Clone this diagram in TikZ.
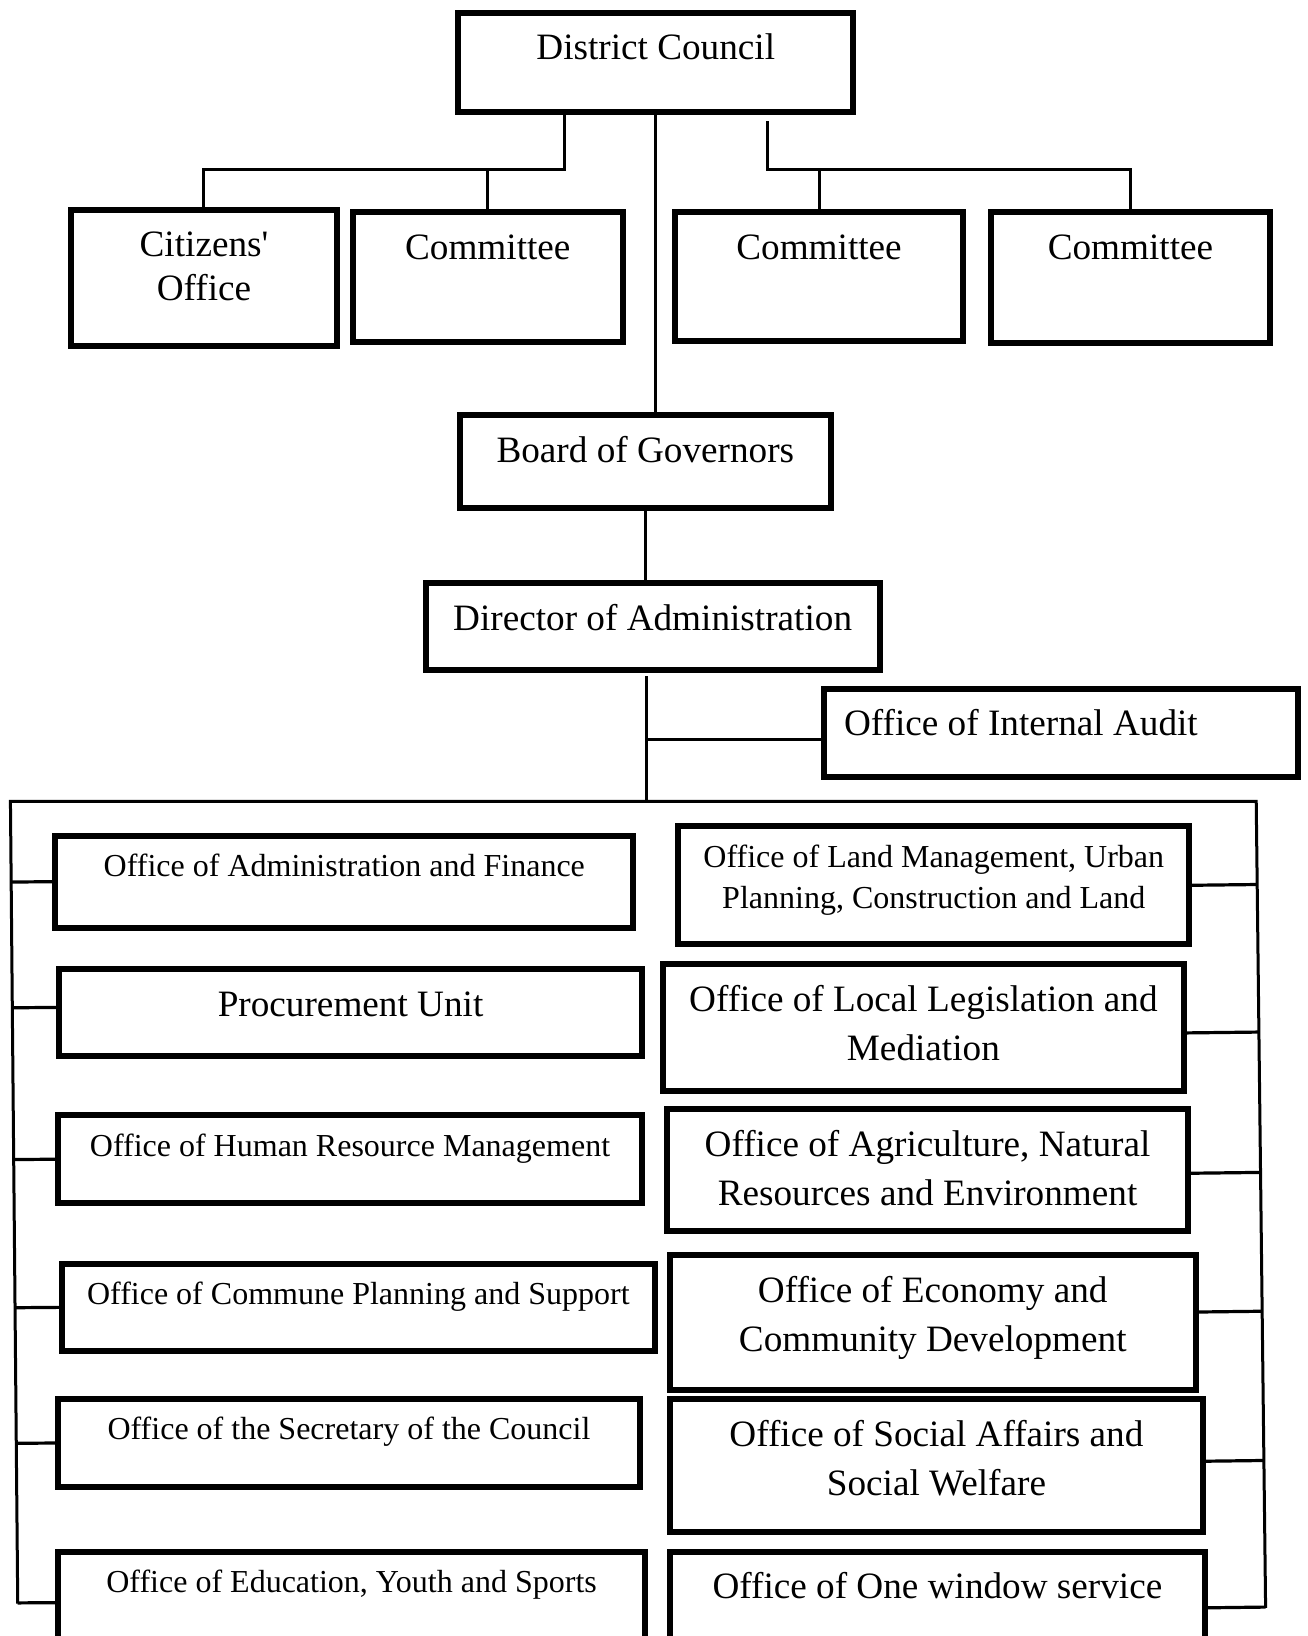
\documentclass[tikz,border=0pt]{standalone}
\usepackage{fontspec}
\setmainfont{Liberation Serif}
\usetikzlibrary{calc}
\newlength\px
\setlength\px{0.52155pt}
\newcommand\bigtext{\fontsize{18.6pt}{24.5pt}\selectfont}
\newcommand\smalltext{\fontsize{16pt}{20.9pt}\selectfont}
\newcommand\orgtext[4][\centering]{\parbox[c][#3\px][t]{#2\px}{#1\rule{0pt}{1.27em}#4}}

\begin{document}
\begin{tikzpicture}[x=0.52155pt, y=-0.52155pt,
        orgbox/.style={draw, line width=3pt, inner sep=0pt, outer sep=0pt, anchor=north west},
        link/.style={line width=1.5pt},
        stub/.style={line width=1.6pt}]
        \useasboundingbox (0,0) rectangle (1253,1568);
        % top level
        \node[orgbox, font=\bigtext] (council) at (439,12) {\orgtext{379}{95}{District Council}};
        \node[orgbox, font=\bigtext] (citizens) at (68,201) {\orgtext{255}{131}{Citizens\textquotesingle\\[-2.5pt]Office}};
        \node[orgbox, font=\bigtext] (comA) at (338,203) {\orgtext{259}{125}{Committee}};
        \node[orgbox, font=\bigtext] (comB) at (647,203) {\orgtext{276}{124}{Committee}};
        \node[orgbox, font=\bigtext] (comC) at (950,203) {\orgtext{267}{126}{Committee}};
        \node[orgbox, font=\bigtext] (board) at (441,398) {\orgtext{355}{89}{Board of Governors}};
        \node[orgbox, font=\bigtext] (director) at (408,559) {\orgtext{435}{83}{Director of Administration}};
        \node[orgbox, font=\bigtext] (audit) at (790,660) {\orgtext[\raggedright\hspace*{19\px}]{454}{85}{Office of Internal Audit}};
        % left column
        \node[orgbox, font=\smalltext] (admin) at (53,801) {\orgtext{554}{88}{Office of Administration and Finance}};
        \node[orgbox, font=\bigtext] (procure) at (57,929) {\orgtext{558}{83}{Procurement Unit}};
        \node[orgbox, font=\smalltext] (hr) at (56,1069) {\orgtext{559}{84}{Office of Human Resource Management}};
        \node[orgbox, font=\smalltext] (commune) at (59,1211) {\orgtext{569}{84}{Office of Commune Planning and Support}};
        \node[orgbox, font=\smalltext] (secretary) at (56,1341) {\orgtext{557}{84}{Office of the Secretary of the Council}};
        \node[orgbox, font=\smalltext] (education) at (56,1487) {\orgtext{562}{98}{Office of Education, Youth and Sports}};
        % right column
        \node[orgbox, font=\smalltext] (land) at (650,792) {\orgtext{490}{113}{Office of Land Management, Urban\\Planning, Construction and Land}};
        \node[orgbox, font=\bigtext] (legis) at (635,924) {\orgtext{500}{122}{Office of Local Legislation and\\Mediation}};
        \node[orgbox, font=\bigtext] (agri) at (639,1063) {\orgtext{500}{117}{Office of Agriculture, Natural\\Resources and Environment}};
        \node[orgbox, font=\bigtext] (economy) at (642,1203) {\orgtext{504}{129}{Office of Economy and\\Community Development}};
        \node[orgbox, font=\bigtext] (social) at (642,1341) {\orgtext{511}{127}{Office of Social Affairs and\\Social Welfare}};
        \node[orgbox, font=\bigtext] (onewindow) at (642,1487) {\orgtext{513}{108}{Office of One window service}};

        % branch points
        \coordinate (lsplit) at (541,162);
        \coordinate (rsplit) at (736,162);
        \coordinate (bus) at (620,768);
        \coordinate (auditjoin) at (620,709);
        \coordinate (busL) at (10,768);
        \coordinate (busR) at (1204,768);
        \coordinate (endL) at (17,1537);
        \coordinate (endR) at (1213,1541);

        \draw[link] (council.south -| lsplit) -- (lsplit) -| (citizens.north);
        \draw[link] (lsplit -| comA.north) -- (comA.north);
        \draw[link] ($(council.south -| rsplit)+(0,9)$) -- (rsplit) -| (comC.north);
        \draw[link] (rsplit -| comB.north) -- (comB.north);
        \draw[link] (council.south) -- (council.south |- board.north);
        \draw[link] (board.south) -- (board.south |- director.north);
        \draw[link] ($(director.south -| bus)+(0,6)$) -- (bus);
        \draw[link] (auditjoin) -- (auditjoin -| audit.west);
        \draw[link] (endL) -- (busL) -- (busR) -- (endR);
        \foreach \n/\s in {admin/0, procure/-5, hr/0, commune/0, secretary/0, education/0} {
          \coordinate (p) at ($(\n.west)+(0,\s)$);
          \draw[stub] (p) -- ($(busL)!(p)!(endL)$);
        };
        \foreach \n/\s in {land/0, legis/5, agri/3, economy/-10, social/-4, onewindow/0} {
          \coordinate (p) at ($(\n.east)+(0,\s)$);
          \draw[stub] (p) -- ($(busR)!(p)!(endR)$);
        };
      \end{tikzpicture}
\end{document}
